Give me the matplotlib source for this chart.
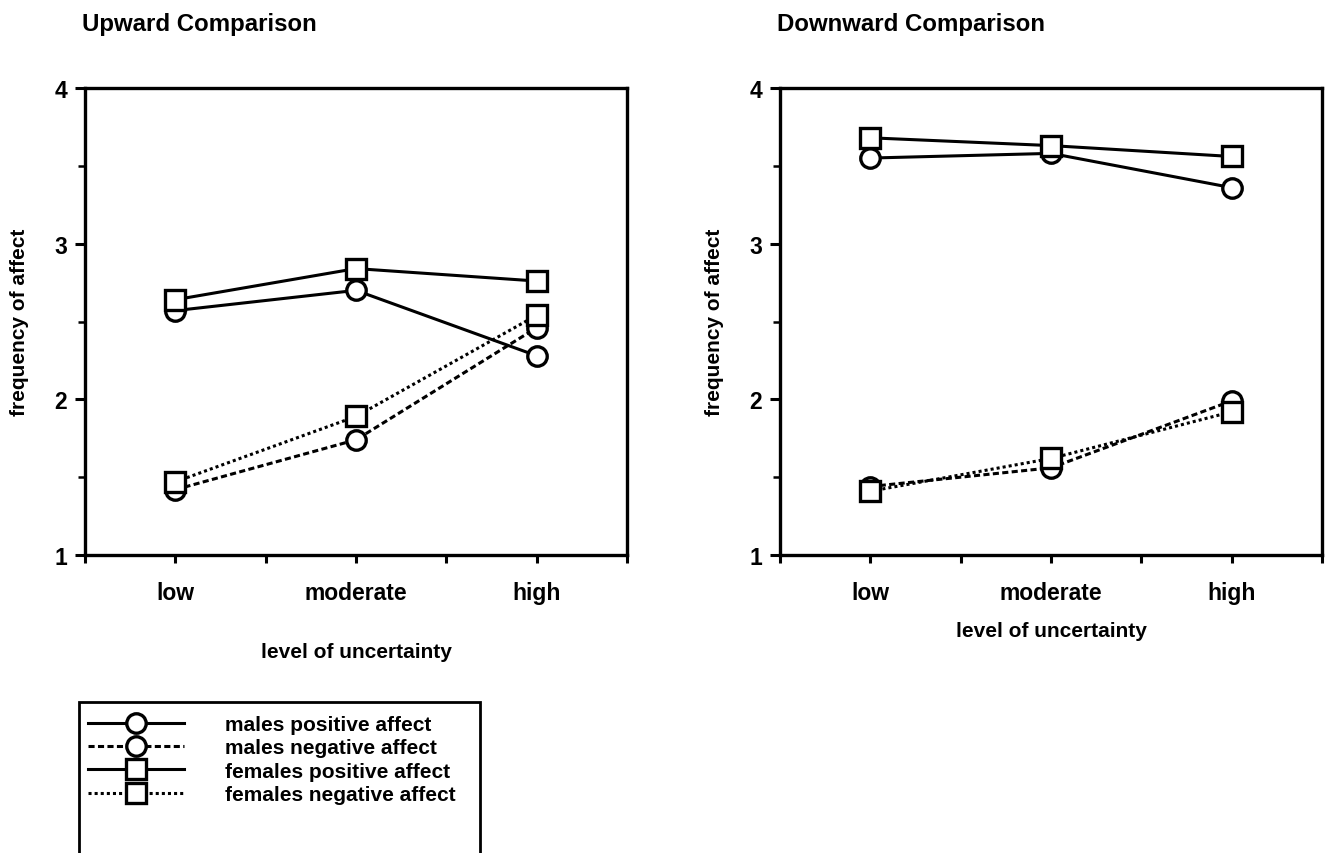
"""
Frequency of affect by level of uncertainty, upward vs downward comparison.

"""

import matplotlib.pyplot as plt
from matplotlib.lines import Line2D
from matplotlib.patches import Rectangle

plt.rcParams['font.family'] = ['Liberation Sans', 'DejaVu Sans']
plt.rcParams['font.weight'] = 'bold'
plt.rcParams['axes.labelweight'] = 'bold'

levels = ['low', 'moderate', 'high']
x_pos = [1, 2, 3]

series_names = ['males positive affect', 'males negative affect',
                'females positive affect', 'females negative affect']

# upward comparison panel
up_males_pos = [2.57, 2.70, 2.28]
up_males_neg = [1.42, 1.74, 2.46]
up_females_pos = [2.64, 2.84, 2.76]
up_females_neg = [1.47, 1.89, 2.54]

# downward comparison panel
down_males_pos = [3.55, 3.58, 3.36]
down_males_neg = [1.44, 1.56, 1.99]
down_females_pos = [3.68, 3.63, 3.56]
down_females_neg = [1.41, 1.62, 1.92]

W, H = 1331, 854
FS = 15
TICK_FS = 16.5

styles = [
  dict(marker='o', ls='-'),
  dict(marker='o', ls=(0, (2.0, 1.1))),
  dict(marker='s', ls='-'),
  dict(marker='s', ls=(0, (1.0, 1.0))),
]
line_kw = dict(color='black', lw=2.2, markersize=14, markerfacecolor='white',
               markeredgecolor='black', markeredgewidth=2.4)


def plot_panel(ax, values, xlabel_pad):
  """
  Draws one panel with the four series.

  Args:
    ax (Axes):        axes to draw in
    values (list):    four lists of y values, in series order
    xlabel_pad (int): gap between tick labels and x label
  """
  for vals, st in zip(values, styles):
    ax.plot(x_pos, vals, linestyle=st['ls'], marker=st['marker'], **line_kw)

  ax.set_xlim(0.5, 3.5)
  ax.set_ylim(1, 4)
  ax.set_xticks(x_pos)
  ax.set_xticklabels(levels)
  ax.set_xticks([0.5, 1.5, 2.5, 3.5], minor=True)
  ax.set_yticks([1, 2, 3, 4])
  ax.set_yticks([1.5, 2.5, 3.5], minor=True)
  ax.tick_params(axis='x', which='both', direction='out', length=6, width=2.2,
                 labelsize=TICK_FS, pad=13)
  ax.tick_params(axis='y', which='major', direction='out', length=7, width=2.2,
                 labelsize=TICK_FS, pad=6)
  ax.tick_params(axis='y', which='minor', direction='out', length=5, width=1.8)
  for sp in ax.spines.values():
    sp.set_linewidth(2.4)

  ax.set_xlabel('level of uncertainty', fontsize=FS, labelpad=xlabel_pad)
  ax.set_ylabel('frequency of affect', fontsize=FS, labelpad=18)


fig = plt.figure(figsize=(W / 100, H / 100), dpi=100)

ax1 = fig.add_axes([85 / W, 1 - 556 / H, 542 / W, 467 / H])
ax2 = fig.add_axes([780 / W, 1 - 556 / H, 542 / W, 467 / H])

plot_panel(ax1, [up_males_pos, up_males_neg, up_females_pos, up_females_neg], 27)
plot_panel(ax2, [down_males_pos, down_males_neg, down_females_pos, down_females_neg], 12)

fig.text(82 / W, 1 - 25 / H, 'Upward Comparison', fontsize=17.3, va='center', ha='left')
fig.text(777 / W, 1 - 25 / H, 'Downward Comparison', fontsize=17.3, va='center', ha='left')

# legend box, cut off at the bottom of the page
fig.patches.append(Rectangle((79 / W, -0.05), 401 / W, 0.05 + 1 - 703 / H,
                             transform=fig.transFigure, fill=False,
                             edgecolor='black', lw=2.0))

handles = [Line2D([], [], linestyle=st['ls'], marker=st['marker'], **line_kw)
           for st in styles]
fig.legend(handles, series_names, loc='upper left',
           bbox_to_anchor=(80 / W, 1 - 708 / H), frameon=False,
           fontsize=FS, handlelength=4.6, handletextpad=1.95,
           labelspacing=0.2, borderaxespad=0)

fig.savefig('out.png', dpi=100)
